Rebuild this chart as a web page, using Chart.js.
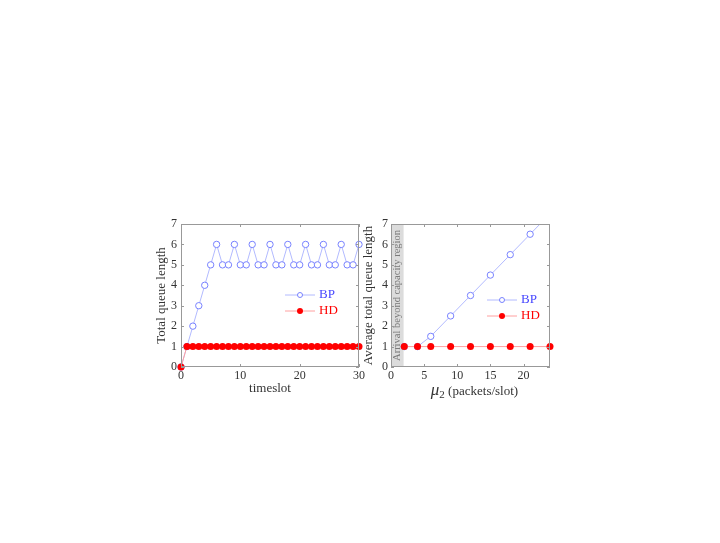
<!DOCTYPE html>
<html>
<head>
<meta charset="utf-8">
<script src="https://cdn.jsdelivr.net/npm/chart.js@4"></script>
<style>
  body { margin: 0; background: #fff; width: 720px; height: 543px; overflow: hidden; }
  .box { position: absolute; }
  #left { left: 140px; top: 200px; width: 230px; height: 200px; }
  #right { left: 355px; top: 200px; width: 210px; height: 200px; }
</style>
</head>
<body>
<div class="box" id="left"><canvas id="c1" width="230" height="200"></canvas></div>
<div class="box" id="right"><canvas id="c2" width="210" height="200"></canvas></div>
<script>
// left panel: queue length over time
const timeslots = [0,1,2,3,4,5,6,7,8,9,10,11,12,13,14,15,16,17,18,19,20,21,22,23,24,25,26,27,28,29,30];
const bpQueue   = [0,1,2,3,4,5,6,5,5,6,5,5,6,5,5,6,5,5,6,5,5,6,5,5,6,5,5,6,5,5,6];
const hdQueue   = [0,1,1,1,1,1,1,1,1,1,1,1,1,1,1,1,1,1,1,1,1,1,1,1,1,1,1,1,1,1,1];

// right panel: average queue length vs mu2
const mu2   = [2,4,6,9,12,15,18,21,24];
const bpAvg = [1,1,1.5,2.5,3.5,4.5,5.5,6.5,7.5];
const hdAvg = [1,1,1,1,1,1,1,1,1];

const yTicks = [0,1,2,3,4,5,6,7];

const SERIF = '"Liberation Serif", "Times New Roman", serif';
const BP_LINE = 'rgb(178,186,255)';
const BP_MARK = 'rgb(120,130,255)';
const BP_TEXT = 'rgb(70,70,255)';
const HD_LINE = 'rgb(255,160,160)';
const HD_MARK = 'rgb(255,0,0)';

function pts(xs, ys) { return xs.map((x, i) => ({ x: x, y: ys[i] })); }

// frame + inward ticks on all four sides
const framePlugin = {
  id: 'frame',
  afterDatasetsDraw(chart) {
    const { ctx, chartArea: a, scales } = chart;
    ctx.save();
    ctx.strokeStyle = '#999';
    ctx.lineWidth = 1;
    ctx.strokeRect(a.left + 0.5, a.top + 0.5, a.right - a.left - 1, a.bottom - a.top - 1);
    ctx.beginPath();
    scales.x.ticks.forEach(t => {
      const px = Math.round(scales.x.getPixelForValue(t.value)) + 0.5;
      ctx.moveTo(px, a.bottom); ctx.lineTo(px, a.bottom - 3);
      ctx.moveTo(px, a.top); ctx.lineTo(px, a.top + 3);
    });
    scales.y.ticks.forEach(t => {
      const py = Math.round(scales.y.getPixelForValue(t.value)) + 0.5;
      ctx.moveTo(a.left, py); ctx.lineTo(a.left + 3, py);
      ctx.moveTo(a.right, py); ctx.lineTo(a.right - 3, py);
    });
    ctx.stroke();
    ctx.restore();
  }
};

// hand-placed legend inside the plot
function legendPlugin(x0, yBP, yHD) {
  return {
    id: 'inlegend',
    afterDraw(chart) {
      const ctx = chart.ctx;
      ctx.save();
      ctx.lineWidth = 1;
      // BP
      ctx.strokeStyle = BP_LINE;
      ctx.beginPath(); ctx.moveTo(x0, yBP); ctx.lineTo(x0 + 30, yBP); ctx.stroke();
      ctx.fillStyle = '#fff'; ctx.strokeStyle = BP_MARK;
      ctx.beginPath(); ctx.arc(x0 + 15, yBP, 2.5, 0, Math.PI * 2); ctx.fill(); ctx.stroke();
      // HD
      ctx.strokeStyle = HD_LINE;
      ctx.beginPath(); ctx.moveTo(x0, yHD); ctx.lineTo(x0 + 30, yHD); ctx.stroke();
      ctx.fillStyle = HD_MARK;
      ctx.beginPath(); ctx.arc(x0 + 15, yHD, 3, 0, Math.PI * 2); ctx.fill();
      ctx.font = '13px ' + SERIF;
      ctx.textBaseline = 'middle';
      ctx.fillStyle = BP_TEXT; ctx.fillText('BP', x0 + 34, yBP);
      ctx.fillStyle = HD_MARK; ctx.fillText('HD', x0 + 34, yHD);
      ctx.restore();
    }
  };
}

// shaded "beyond capacity" band on the right panel
const bandPlugin = {
  id: 'band',
  beforeDatasetsDraw(chart) {
    const { ctx, chartArea: a, scales } = chart;
    const x1 = scales.x.getPixelForValue(0);
    const x2 = scales.x.getPixelForValue(1.9);
    ctx.save();
    ctx.fillStyle = '#dcdcdc';
    ctx.fillRect(x1, a.top, x2 - x1, a.bottom - a.top);
    ctx.translate((x1 + x2) / 2, (a.top + a.bottom) / 2);
    ctx.rotate(-Math.PI / 2);
    ctx.fillStyle = '#7a7a7a';
    ctx.font = '10.5px ' + SERIF;
    ctx.textAlign = 'center';
    ctx.textBaseline = 'middle';
    ctx.fillText('Arrival beyond capacity region', 0, 0);
    ctx.restore();
  }
};

// x title of the right panel: italic mu with subscript 2
const muTitlePlugin = {
  id: 'mutitle',
  afterDraw(chart) {
    const { ctx, chartArea: a } = chart;
    const y = 191;
    const parts = [
      { t: 'μ', f: 'italic 17px ' + SERIF, dy: 0 },
      { t: '2', f: '11px ' + SERIF, dy: 3 },
      { t: ' (packets/slot)', f: '13px ' + SERIF, dy: 0 }
    ];
    ctx.save();
    ctx.fillStyle = '#333';
    ctx.textBaseline = 'alphabetic';
    let w = 0;
    parts.forEach(p => { ctx.font = p.f; p.w = ctx.measureText(p.t).width; w += p.w; });
    let x = (a.left + a.right) / 2 + 4 - w / 2;
    parts.forEach(p => { ctx.font = p.f; ctx.fillText(p.t, x, y + 4 + p.dy); x += p.w; });
    ctx.restore();
  }
};

function makeScales(o) {
  return {
    x: {
      type: 'linear', min: o.xmin, max: o.xmax,
      afterFit: s => { s.height = o.xh; },
      grid: { display: false, drawTicks: false }, border: { display: false },
      ticks: { stepSize: o.xstep, includeBounds: false, padding: 2, color: '#333', font: { family: SERIF, size: 12 } },
      title: { display: o.xtitle !== '', text: o.xtitle, color: '#333', padding: { top: 0, bottom: o.xtp }, font: { family: SERIF, size: 13 } }
    },
    y: {
      type: 'linear', min: 0, max: 7,
      afterFit: s => { s.width = o.yw; },
      afterBuildTicks: s => { s.ticks = yTicks.map(v => ({ value: v })); },
      grid: { display: false, drawTicks: false }, border: { display: false },
      ticks: { padding: o.ytpad, color: '#333', font: { family: SERIF, size: 12 } },
      title: { display: true, text: o.ytitle, color: '#333', padding: { top: o.ytp, bottom: 0 }, font: { family: SERIF, size: 13 } }
    }
  };
}

function datasets(xs, bp, hd) {
  return [
    { label: 'BP', data: pts(xs, bp), order: 1, borderColor: BP_LINE, borderWidth: 1,
      pointStyle: 'circle', pointRadius: 3.2, pointBackgroundColor: '#fff', pointBorderColor: BP_MARK, pointBorderWidth: 1,
      clip: { left: 6, right: 6, top: 0, bottom: 6 } },
    { label: 'HD', data: pts(xs, hd), order: 0, borderColor: HD_LINE, borderWidth: 1,
      pointStyle: 'circle', pointRadius: 3.5, pointBackgroundColor: HD_MARK, pointBorderColor: HD_MARK, pointBorderWidth: 0,
      clip: { left: 6, right: 6, top: 6, bottom: 6 } }
  ];
}

const common = {
  responsive: false, animation: false,
  plugins: { legend: { display: false }, tooltip: { enabled: false } }
};

new Chart(document.getElementById('c1'), {
  type: 'line',
  data: { datasets: datasets(timeslots, bpQueue, hdQueue) },
  options: Object.assign({}, common, {
    layout: { padding: { left: 0, top: 24, right: 11, bottom: 0 } },
    scales: makeScales({ xmin: 0, xmax: 30, xstep: 10, xh: 33, xtp: 4, xtitle: 'timeslot',
      yw: 41, ytpad: 4, ytp: 14, ytitle: 'Total queue length' })
  }),
  plugins: [framePlugin, legendPlugin(145, 95, 111)]
});

new Chart(document.getElementById('c2'), {
  type: 'line',
  data: { datasets: datasets(mu2, bpAvg, hdAvg) },
  options: Object.assign({}, common, {
    layout: { padding: { left: 0, top: 24, right: 15, bottom: 0 } },
    scales: makeScales({ xmin: 0, xmax: 24, xstep: 5, xh: 33, xtp: 1, xtitle: '',
      yw: 36, ytpad: 3, ytp: 6, ytitle: 'Average total queue length' })
  }),
  plugins: [bandPlugin, framePlugin, legendPlugin(132, 100, 116), muTitlePlugin]
});
</script>
</body>
</html>
